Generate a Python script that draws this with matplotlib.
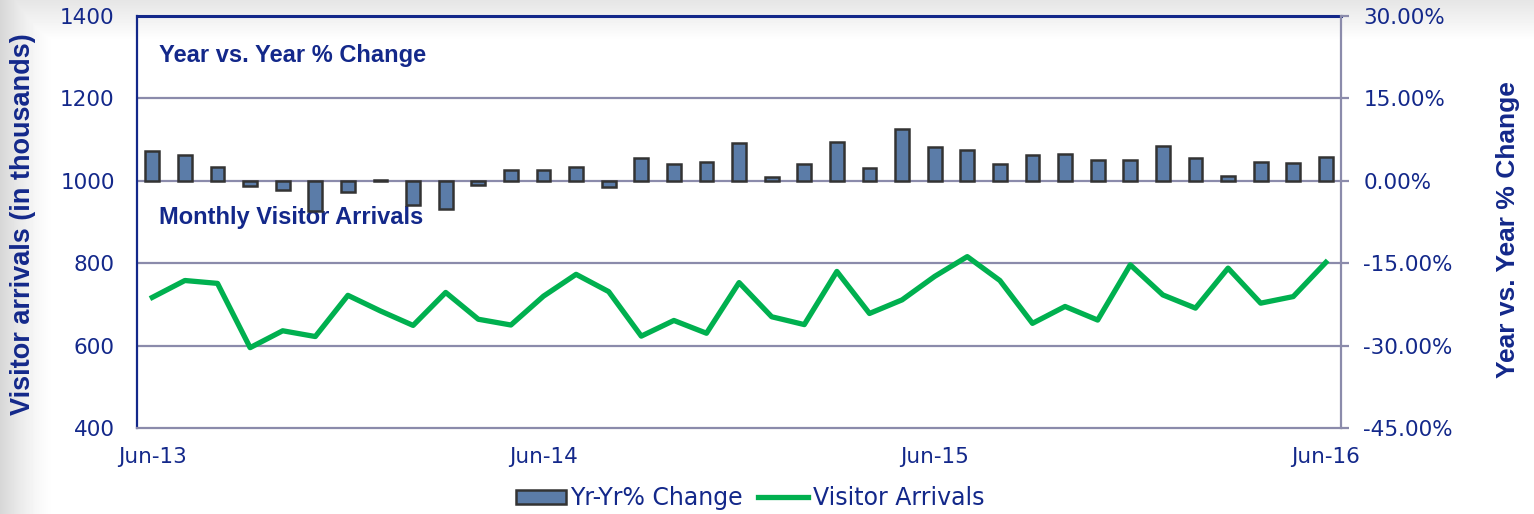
import matplotlib

matplotlib.use("Agg")
import matplotlib.pyplot as plt
import numpy as np
from matplotlib.ticker import FuncFormatter


MONTHS = [
    "Jun-13", "Jul-13", "Aug-13", "Sep-13", "Oct-13", "Nov-13", "Dec-13",
    "Jan-14", "Feb-14", "Mar-14", "Apr-14", "May-14", "Jun-14", "Jul-14",
    "Aug-14", "Sep-14", "Oct-14", "Nov-14", "Dec-14", "Jan-15", "Feb-15",
    "Mar-15", "Apr-15", "May-15", "Jun-15", "Jul-15", "Aug-15", "Sep-15",
    "Oct-15", "Nov-15", "Dec-15", "Jan-16", "Feb-16", "Mar-16", "Apr-16",
    "May-16", "Jun-16",
]
VISITOR_ARRIVALS = [
    717, 758, 751, 595, 636, 622, 722, 684, 649, 729, 664, 650, 720,
    773, 731, 623, 661, 630, 753, 670, 651, 780, 678, 711, 768, 816,
    758, 654, 695, 662, 796, 723, 691, 788, 703, 719, 802,
]
YOY_CHANGE = [
    5.5, 4.7, 2.6, -1.0, -1.6, -5.5, -2.0, 0.2, -4.4, -5.2, -0.7, 1.9, 2.0,
    2.6, -1.2, 4.1, 3.0, 3.5, 6.9, 0.7, 3.0, 7.0, 2.3, 9.4, 6.1, 5.6,
    3.0, 4.7, 4.8, 3.7, 3.7, 6.3, 4.1, 0.8, 3.4, 3.2, 4.3,
]
LABELED_MONTHS = ["Jun-13", "Jun-14", "Jun-15", "Jun-16"]

NAVY = "#13288a"
GRID = "#8b8bab"
BAR_FILL = "#5b7ca8"
BAR_EDGE = "#333333"
GREEN = "#00b04f"
BOLD_FONT = "Liberation Sans"


def _background(fig: plt.Figure) -> None:
    # soft grey shading along the top and left edges, like the slide
    h, w = 514, 1534
    yy = np.arange(h)[:, None]
    xx = np.arange(w)[None, :]
    top = 0.10 * np.clip(1 - yy / 40.0, 0, 1)
    left = 0.16 * np.clip(1 - xx / 55.0, 0, 1) ** 1.5
    shade = 1 - np.maximum(top, left)
    bg = fig.add_axes([0, 0, 1, 1], zorder=-10)
    bg.imshow(shade, cmap="gray", vmin=0, vmax=1, aspect="auto",
              interpolation="bilinear")
    bg.axis("off")


def main() -> int:
    fig = plt.figure(figsize=(15.34, 5.14), dpi=100)
    _background(fig)
    ax = fig.add_axes([0.0893, 0.1673, 0.785, 0.8016])
    ax.set_facecolor("none")
    ax2 = ax.twinx()

    x = np.arange(len(MONTHS))

    ax2.bar(x, YOY_CHANGE, width=0.42, color=BAR_FILL, edgecolor=BAR_EDGE,
            linewidth=1.8, label="Yr-Yr% Change", zorder=3)
    line, = ax.plot(x, VISITOR_ARRIVALS, color=GREEN, linewidth=3.8,
                    label="Visitor Arrivals", zorder=3)

    ax.set_xlim(-0.47, len(MONTHS) - 1 + 0.47)
    ax.set_ylim(400, 1400)
    ax.set_yticks([400, 600, 800, 1000, 1200, 1400])
    ax2.set_ylim(-45, 30)
    ax2.set_yticks([-45, -30, -15, 0, 15, 30])
    ax2.yaxis.set_major_formatter(FuncFormatter(lambda v, _: f"{v:.2f}%"))

    tick_pos = [MONTHS.index(m) for m in LABELED_MONTHS]
    ax.set_xticks(tick_pos)
    ax.set_xticklabels(LABELED_MONTHS)

    for gy in [600, 800, 1000, 1200]:
        ax.axhline(gy, color=GRID, linewidth=1.6, zorder=1)

    for axis in (ax, ax2):
        axis.tick_params(axis="both", colors=NAVY, labelsize=15.5, length=0)
        for side in ("top", "bottom", "left", "right"):
            axis.spines[side].set_visible(False)

    ax2.spines["right"].set_visible(True)
    ax2.spines["right"].set_color(GRID)
    ax2.spines["right"].set_linewidth(1.6)
    ax2.tick_params(axis="y", length=6, width=1.6, color=GRID, pad=10)
    ax.spines["bottom"].set_visible(True)
    ax.spines["bottom"].set_color(GRID)
    ax.spines["bottom"].set_linewidth(1.6)
    ax.spines["left"].set_visible(True)
    ax.spines["left"].set_color(NAVY)
    ax.spines["left"].set_linewidth(1.6)
    ax.spines["top"].set_visible(True)
    ax.spines["top"].set_color(NAVY)
    ax.spines["top"].set_linewidth(2.2)
    ax.tick_params(axis="x", pad=14)
    ax.tick_params(axis="y", pad=16)

    fig.text(23 / 1534, 1 - 224 / 514, "Visitor arrivals (in thousands)",
             rotation=90, color=NAVY, fontsize=19.5, fontweight="bold",
             family=BOLD_FONT, ha="center", va="center")
    fig.text(1508 / 1534, 1 - 230 / 514, "Year vs. Year % Change",
             rotation=90, color=NAVY, fontsize=19, fontweight="bold",
             family=BOLD_FONT, ha="center", va="center")

    ax.text(0.018, 0.905, "Year vs. Year % Change", transform=ax.transAxes,
            color=NAVY, fontsize=17, fontweight="bold",
            family=BOLD_FONT, va="center", ha="left")
    ax.text(0.018, 0.51, "Monthly Visitor Arrivals", transform=ax.transAxes,
            color=NAVY, fontsize=17, fontweight="bold",
            family=BOLD_FONT, va="center", ha="left")

    bars_handle = ax2.containers[0]
    fig.legend([bars_handle, line], ["Yr-Yr% Change", "Visitor Arrivals"],
               loc="center", bbox_to_anchor=(0.489, 0.031), ncol=2,
               frameon=False, fontsize=17, labelcolor=NAVY,
               handlelength=2.1, handleheight=0.55, handletextpad=0.2,
               columnspacing=0.65)

    fig.savefig("out.png", dpi=100)
    plt.close(fig)
    return 0


if __name__ == "__main__":
    raise SystemExit(main())
